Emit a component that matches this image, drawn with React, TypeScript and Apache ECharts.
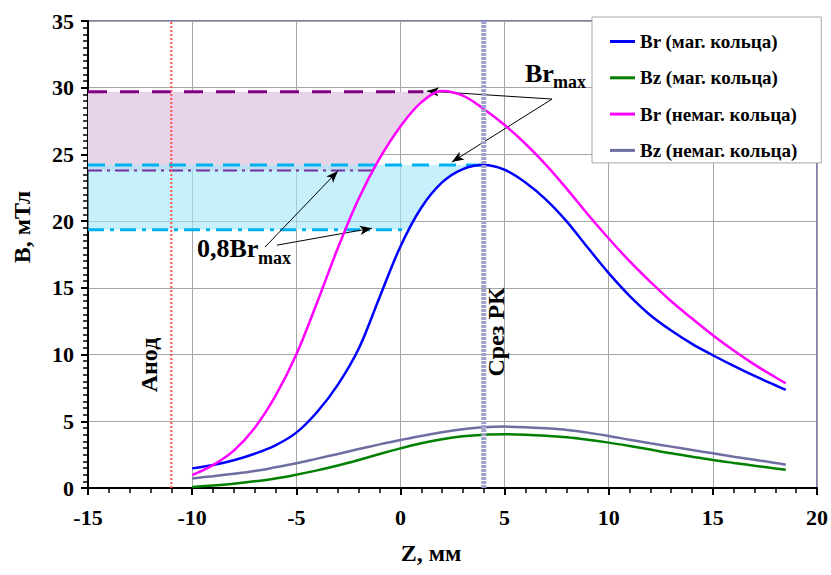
import React, { useEffect, useRef } from 'react';
import * as echarts from 'echarts';

const FONT = "'Liberation Serif', 'Times New Roman', serif";

// Z, mm
const zMm = [-10, -9, -8, -7, -6, -5, -4, -3, -2, -1, 0, 1, 2, 3, 4, 5, 6, 7, 8, 9, 10, 11, 12, 13, 14, 15, 16, 17, 18, 18.5];

// B, mT
const brMag = [1.47, 1.72, 2.08, 2.57, 3.2, 4.15, 5.7, 7.75, 10.45, 14.3, 18.1, 21.0, 22.9, 23.9, 24.2, 23.85, 22.9, 21.6, 19.95, 18.0, 16.1, 14.4, 12.95, 11.8, 10.8, 9.95, 9.15, 8.4, 7.7, 7.35];
const bzMag = [0.08, 0.18, 0.32, 0.5, 0.72, 1.0, 1.32, 1.68, 2.1, 2.55, 2.97, 3.35, 3.66, 3.88, 4.0, 4.03, 4.0, 3.92, 3.8, 3.62, 3.4, 3.15, 2.88, 2.6, 2.35, 2.1, 1.88, 1.67, 1.47, 1.37];
const brNonMag = [0.97, 1.72, 2.8, 4.5, 6.9, 10.0, 13.9, 18.0, 21.7, 24.7, 27.1, 28.9, 29.75, 29.4, 28.4, 27.2, 25.8, 24.2, 22.4, 20.5, 18.7, 17.0, 15.45, 14.0, 12.7, 11.45, 10.3, 9.25, 8.3, 7.85];
const bzNonMag = [0.72, 0.88, 1.06, 1.27, 1.55, 1.85, 2.2, 2.55, 2.92, 3.27, 3.6, 3.9, 4.18, 4.4, 4.55, 4.6, 4.56, 4.47, 4.35, 4.15, 3.9, 3.62, 3.35, 3.1, 2.85, 2.6, 2.35, 2.12, 1.88, 1.75];

const seriesNames = ['Br (маг. кольца)', 'Bz (маг. кольца)', 'Br (немаг. кольца)', 'Bz (немаг. кольца)'];
const seriesColors = ['#0000ff', '#008000', '#ff00ff', '#6e6ea3'];

// markers on the Z axis
const anodeZ = -11;
const cutZ = 4;

// level of the dashed Br max line drawn for the non-magnetic rings
const brMaxNonMagLine = 29.7;
const ratio = 0.8;

const xTicks = { min: -15, max: 20, step: 5 };
const yTicks = { min: 0, max: 35, step: 5 };

const pairs = (ys: number[]) => zMm.map((z, i) => [z, ys[i]]);

// first rising crossing of a level on a sampled curve
const risingCross = (ys: number[], level: number) => {
  for (let i = 0; i < ys.length - 1; i++) {
    if (ys[i] < level && ys[i + 1] >= level) {
      return zMm[i] + ((level - ys[i]) / (ys[i + 1] - ys[i])) * (zMm[i + 1] - zMm[i]);
    }
  }
  return zMm[0];
};

// region left of a rising curve between two levels
const bandPolygon = (ys: number[], low: number, high: number) => {
  const xLow = risingCross(ys, low);
  const xHigh = risingCross(ys, high);
  const pts: number[][] = [[xTicks.min, low], [xTicks.min, high], [xHigh, high]];
  for (let i = zMm.length - 1; i >= 0; i--) {
    if (zMm[i] > xLow && zMm[i] < xHigh) pts.push([zMm[i], ys[i]]);
  }
  pts.push([xLow, low]);
  return pts;
};

const brMaxMag = Math.max(...brMag);
const brMaxMagZ = zMm[brMag.indexOf(brMaxMag)];
const brMaxNonMag = Math.max(...brNonMag);
const lowMag = ratio * brMaxMag;
const lowNonMag = ratio * brMaxNonMag;

const polyNonMag = bandPolygon(brNonMag, lowNonMag, brMaxNonMagLine);
const polyMag = bandPolygon(brMag, lowMag, brMaxMag);

const arrows = [
  [[7.28, 29.15], [1.27, 29.75]],
  [[7.28, 29.15], [2.47, 24.43]],
  [[-6.5, 18.06], [-3.0, 23.76]],
  [[-5.93, 18.2], [-1.37, 19.47]],
];

const polygonSeries = (pts: number[][], fill: string, z: number) => ({
  type: 'custom',
  silent: true,
  z,
  data: [[xTicks.min, yTicks.min]],
  renderItem: (_params: any, api: any) => ({
    type: 'polygon',
    shape: { points: pts.map((p) => api.coord(p)) },
    style: { fill },
  }),
});

const levelLine = (from: number, to: number, y: number, color: string, width: number, type: any) => ({
  type: 'line',
  silent: true,
  z: 3,
  symbol: 'none',
  data: [[from, y], [to, y]],
  lineStyle: { color, width, type },
});

const textStyle = (size: number) => ({ fontFamily: FONT, fontWeight: 'bold', fontSize: size, fill: '#000' });

const rotatedText = (text: string, x: number, y: number, size: number) => ({
  type: 'text',
  x,
  y,
  rotation: Math.PI / 2,
  z: 50,
  style: { ...textStyle(size), text, x: 0, y: 0, align: 'center', verticalAlign: 'middle' },
});

const plainText = (text: string, x: number, y: number, size: number, align = 'left') => ({
  type: 'text',
  x,
  y,
  z: 50,
  style: { ...textStyle(size), text, x: 0, y: 0, align, verticalAlign: 'middle' },
});

export default function App() {
  const ref = useRef<HTMLDivElement>(null);

  useEffect(() => {
    const chart = echarts.init(ref.current!, null, { renderer: 'svg' });

    const curves = [brMag, bzMag, brNonMag, bzNonMag].map((ys, i) => ({
      name: seriesNames[i],
      type: 'line',
      smooth: 0.35,
      showSymbol: false,
      symbol: 'none',
      z: 5,
      color: seriesColors[i],
      itemStyle: { color: seriesColors[i] },
      lineStyle: { color: seriesColors[i], width: 2.5 },
      data: pairs(ys),
    }));

    const option: any = {
      animation: false,
      backgroundColor: '#ffffff',
      grid: {
        left: 88,
        right: 14,
        top: 21,
        bottom: 87,
        containLabel: false,
        outerBoundsMode: 'none',
        show: true,
        borderColor: '#7b7bb0',
        borderWidth: 2,
        backgroundColor: 'transparent',
      },
      legend: {
        data: seriesNames,
        orient: 'vertical',
        left: 592,
        top: 17,
        icon: 'rect',
        itemWidth: 25,
        itemHeight: 3,
        itemGap: 17.3,
        padding: [15, 24, 3, 18],
        backgroundColor: '#ffffff',
        borderColor: '#a6a6a6',
        borderWidth: 1,
        selectedMode: false,
        textStyle: { fontFamily: FONT, fontWeight: 'bold', fontSize: 19, lineHeight: 19, color: '#000' },
      },
      xAxis: {
        type: 'value',
        min: xTicks.min,
        max: xTicks.max,
        interval: xTicks.step,
        axisLine: { onZero: false, lineStyle: { color: '#000', width: 2 } },
        axisTick: { show: true, length: 7, lineStyle: { color: '#000', width: 2 } },
        minorTick: { show: true, splitNumber: 5, length: 5, lineStyle: { color: '#000', width: 1.5 } },
        splitLine: { show: true, lineStyle: { color: '#a6a6a6', width: 1 } },
        axisLabel: { margin: 18, color: '#000', fontFamily: FONT, fontWeight: 'bold', fontSize: 22 },
      },
      yAxis: {
        type: 'value',
        min: yTicks.min,
        max: yTicks.max,
        interval: yTicks.step,
        axisLine: { show: true, onZero: false, lineStyle: { color: '#000', width: 2 } },
        axisTick: { show: true, length: 7, lineStyle: { color: '#000', width: 2 } },
        minorTick: { show: true, splitNumber: 10, length: 5, lineStyle: { color: '#000', width: 1.5 } },
        splitLine: { show: true, lineStyle: { color: '#a6a6a6', width: 1 } },
        axisLabel: { margin: 14, color: '#000', fontFamily: FONT, fontWeight: 'bold', fontSize: 22 },
      },
      graphic: [
        rotatedText('B, мТл', 22, 227, 24),
        plainText('Z, мм', 431, 553, 24, 'center'),
        rotatedText('Анод', 149, 365, 24),
        rotatedText('Срез РК', 496, 332, 24),
        plainText('Br', 525, 73, 26),
        plainText('max', 553, 82, 18),
        plainText('0,8Br', 197, 248, 26),
        plainText('max', 258, 258, 18),
      ],
      series: [
        polygonSeries(polyNonMag, '#e8d4e8', 1),
        polygonSeries(polyMag, 'rgba(160,230,250,0.6)', 2),
        levelLine(xTicks.min, 1.1, brMaxNonMagLine, '#800080', 3, [19, 13]),
        levelLine(xTicks.min, brMaxMagZ, brMaxMag, '#00b0f0', 3, [17, 10]),
        levelLine(xTicks.min, risingCross(brNonMag, lowNonMag), lowNonMag, '#7030a0', 2, [14, 5, 3, 5]),
        levelLine(xTicks.min, risingCross(brMag, lowMag), lowMag, '#00b0f0', 3, [16, 6, 4, 6]),
        ...curves,
        {
          type: 'line',
          silent: true,
          z: 8,
          symbol: 'none',
          data: [[anodeZ, yTicks.min], [anodeZ, yTicks.max]],
          lineStyle: { color: '#ff5050', width: 2, type: [2, 2] },
          markLine: {
            silent: true,
            symbol: ['none', 'arrow'],
            symbolSize: [7, 12],
            lineStyle: { color: '#000', width: 1, type: 'solid' },
            label: { show: false },
            emphasis: { disabled: true },
            data: arrows.map(([a, b]) => [{ coord: a }, { coord: b }]),
          },
        },
        {
          type: 'line',
          silent: true,
          z: 8,
          symbol: 'none',
          data: [[cutZ, yTicks.min], [cutZ, yTicks.max]],
          lineStyle: { color: '#a0a0cc', width: 5, type: [3, 1] },
        },
      ],
    };

    chart.setOption(option);
    return () => chart.dispose();
  }, []);

  return <div ref={ref} style={{ position: 'absolute', left: 0, top: 0, width: 831, height: 575 }} />;
}
